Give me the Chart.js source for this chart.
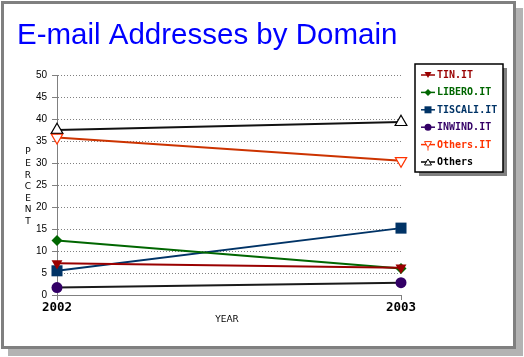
<!DOCTYPE html>
<html><head><meta charset="utf-8">
<script src="https://cdn.jsdelivr.net/npm/chart.js@4/dist/chart.umd.min.js"></script>
<style>
html,body{margin:0;padding:0;background:#fff;}
#wrap{position:relative;width:524px;height:357px;overflow:hidden;background:#fff;}
#frame{position:absolute;left:1px;top:1px;width:509px;height:342px;border:3px solid #808080;box-shadow:7px 7px 0 #b3b3b3;background:#fff;}
#c{position:absolute;left:0;top:0;}
</style></head>
<body><div id="wrap"><div id="frame"></div><canvas id="c" width="524" height="357" style="width:524px;height:357px"></canvas></div>
<script>
const chartTitle = 'E-mail Addresses by Domain';
const xAxisTitle = 'YEAR';
const yAxisTitle = 'PERCENT';
const years = ['2002', '2003'];
const seriesNames = ['TIN.IT', 'LIBERO.IT', 'TISCALI.IT', 'INWIND.IT', 'Others.IT', 'Others'];
const tinIt = [7.2, 6.2];
const liberoIt = [12.4, 6.0];
const tiscaliIt = [5.5, 15.2];
const inwindIt = [1.7, 2.8];
const othersIt = [35.8, 30.5];
const others = [37.5, 39.3];
const yMin = 0, yMax = 50, yStep = 5;

const seriesValues = [tinIt, liberoIt, tiscaliIt, inwindIt, othersIt, others];
const lineColors = ['#990000', '#006600', '#003366', '#1a1a1a', '#cc3300', '#111111'];
const markColors = ['#990000', '#006600', '#003366', '#330066', '#ff3300', '#000000'];
const textColors = ['#990000', '#006600', '#003366', '#330066', '#ff3300', '#000000'];
const styles = [
  {pointStyle:'triangle', rot:180, r:6.3, fill:true},
  {pointStyle:'rectRot', rot:0, r:5.5, fill:true},
  {pointStyle:'rect', rot:0, r:7.8, fill:true},
  {pointStyle:'circle', rot:0, r:5.5, fill:true},
  {pointStyle:'triangle', rot:180, r:6.5, fill:false},
  {pointStyle:'triangle', rot:0, r:6.8, fill:false}
];

const datasets = seriesNames.map((name, i) => ({
  label: name,
  data: seriesValues[i],
  borderColor: lineColors[i],
  borderWidth: 2,
  pointStyle: styles[i].pointStyle,
  pointRotation: styles[i].rot,
  pointRadius: styles[i].r,
  pointBackgroundColor: styles[i].fill ? markColors[i] : '#ffffff',
  pointBorderColor: markColors[i],
  pointBorderWidth: styles[i].fill ? 0 : 1.2,
  clip: false,
  tension: 0
}));

function legendMark(ctx, i, x, y) {
  ctx.save();
  ctx.strokeStyle = markColors[i];
  ctx.fillStyle = styles[i].fill ? markColors[i] : '#ffffff';
  ctx.lineWidth = 1.5;
  ctx.beginPath();
  ctx.moveTo(x - 7, y); ctx.lineTo(x + 7, y); ctx.stroke();
  ctx.lineWidth = 1;
  ctx.beginPath();
  const s = styles[i];
  if (s.pointStyle === 'triangle' && s.rot === 180) {
    ctx.moveTo(x - 3.5, y - 3); ctx.lineTo(x + 3.5, y - 3); ctx.lineTo(x, y + 3); ctx.closePath();
  } else if (s.pointStyle === 'triangle') {
    ctx.moveTo(x - 3.5, y + 3); ctx.lineTo(x + 3.5, y + 3); ctx.lineTo(x, y - 3); ctx.closePath();
  } else if (s.pointStyle === 'rectRot') {
    ctx.moveTo(x, y - 3.5); ctx.lineTo(x + 3.5, y); ctx.lineTo(x, y + 3.5); ctx.lineTo(x - 3.5, y); ctx.closePath();
  } else if (s.pointStyle === 'rect') {
    ctx.rect(x - 3.5, y - 3.5, 7, 7);
  } else {
    ctx.arc(x, y, 3.5, 0, Math.PI * 2);
  }
  if (s.fill) ctx.fill(); else { ctx.fill(); ctx.stroke(); }
  if (i === 4) { ctx.beginPath(); ctx.moveTo(x, y + 3); ctx.lineTo(x, y + 6); ctx.stroke(); }
  ctx.restore();
}

const decor = {
  id: 'decor',
  afterDraw(chart) {
    const ctx = chart.ctx;
    ctx.save();
    // title
    ctx.font = '29.5px "Liberation Sans", Arial, sans-serif';
    ctx.fillStyle = '#0000ff';
    ctx.textAlign = 'left';
    ctx.textBaseline = 'alphabetic';
    ctx.fillText(chartTitle, 17, 44);
    // y title stacked letters
    ctx.font = '9px "DejaVu Sans", sans-serif';
    ctx.fillStyle = '#000';
    ctx.textAlign = 'center';
    ctx.textBaseline = 'middle';
    const letters = yAxisTitle.split('');
    letters.forEach((ch, k) => ctx.fillText(ch, 28, 152 + k * 11.6));
    // x title
    ctx.fillText(xAxisTitle, 227, 320);
    // legend box
    const bx = 415, by = 64, bw = 88, bh = 108;
    ctx.fillStyle = '#808080';
    ctx.fillRect(bx + 4, by + 4, bw, bh);
    ctx.fillStyle = '#ffffff';
    ctx.fillRect(bx, by, bw, bh);
    ctx.strokeStyle = '#000';
    ctx.lineWidth = 1.5;
    ctx.strokeRect(bx, by, bw, bh);
    ctx.font = 'bold 10px "DejaVu Sans Mono", monospace';
    ctx.textAlign = 'left';
    ctx.textBaseline = 'middle';
    seriesNames.forEach((name, i) => {
      const y = 75 + i * 17.4;
      legendMark(ctx, i, 428, y);
      ctx.fillStyle = textColors[i];
      ctx.fillText(name, 437, y + 0.5);
    });
    ctx.restore();
  }
};

new Chart(document.getElementById('c'), {
  type: 'line',
  data: { labels: years, datasets },
  plugins: [decor],
  options: {
    responsive: false,
    animation: false,
    layout: { padding: { left: 0, top: 75, right: 123, bottom: 0 } },
    plugins: { legend: { display: false }, title: { display: false }, tooltip: { enabled: false } },
    scales: {
      x: {
        afterFit(scale) { scale.height = 62; },
        grid: { drawOnChartArea: false, drawTicks: true, tickLength: 5, tickColor: '#808080', tickWidth: 1 },
        border: { color: '#808080', width: 1 },
        ticks: { color: '#000', padding: 0, maxRotation: 0, font: { family: '"DejaVu Sans Mono", monospace', size: 12.5, weight: 'bold' } }
      },
      y: {
        min: yMin, max: yMax,
        afterFit(scale) { scale.width = 57; },
        grid: { color: '#808080', lineWidth: 1, drawTicks: true, tickLength: 5, tickColor: '#808080', tickWidth: 1, tickBorderDash: [] },
        border: { color: '#808080', width: 1, dash: [1, 2] },
        ticks: { stepSize: yStep, color: '#000', padding: 5, font: { family: '"Liberation Sans", Arial, sans-serif', size: 10 } }
      }
    }
  }
});
</script>
</body></html>
